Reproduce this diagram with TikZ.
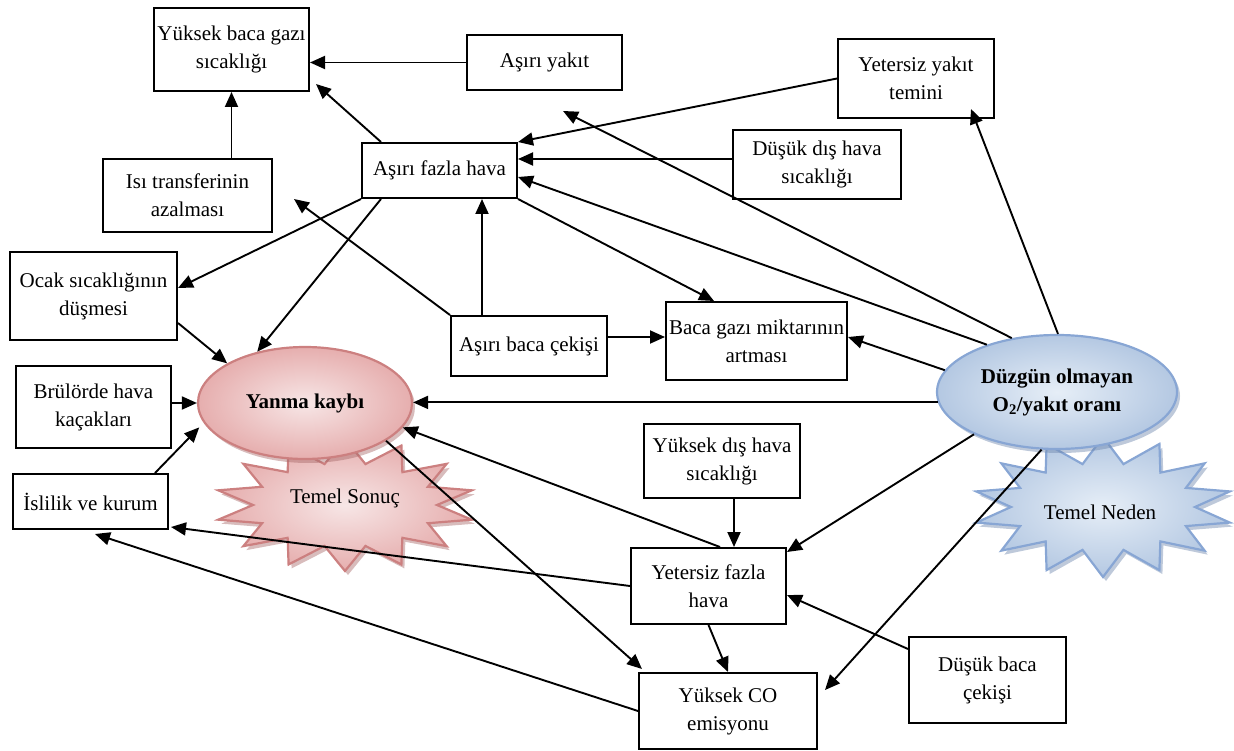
\documentclass[tikz,border=0pt]{standalone}
\usepackage{fontspec}
\setmainfont{Liberation Serif}
\usetikzlibrary{arrows.meta,shadows,calc,shapes.geometric}
\definecolor{pinkin}{HTML}{F7E6E6}
\definecolor{pinkout}{HTML}{E6AEAE}
\definecolor{pinkline}{HTML}{CC8080}
\definecolor{pinkshadow}{HTML}{A86A6A}
\definecolor{bluein}{HTML}{E6EEF7}
\definecolor{blueout}{HTML}{B4C8E2}
\definecolor{blueline}{HTML}{88A6D4}
\definecolor{blueshadow}{HTML}{6F88AE}
\begin{document}
\begin{tikzpicture}[x=1pt,y=-1pt,
  txt/.style={font=\fontsize{21}{28}\selectfont, align=center},
  box/.style={txt, draw, line width=2pt, fill=white, inner sep=1pt},
  arr/.style={line width=1.9pt, -{Triangle[length=15pt,width=13pt]}},
  pinkshape/.style={draw=pinkline, line width=2.2pt, inner color=pinkin, outer color=pinkout,
    drop shadow={shadow xshift=3pt, shadow yshift=-4pt, opacity=0.45, fill=pinkshadow}},
  blueshape/.style={draw=blueline, line width=2.2pt, inner color=bluein, outer color=blueout,
    drop shadow={shadow xshift=3pt, shadow yshift=-4pt, opacity=0.45, fill=blueshadow}}]
\useasboundingbox (0,0) rectangle (1234,751);

% starbursts
\path[pinkshape] plot[samples at={0,...,27}, variable=\k]
  ({345+ifthenelse(mod(\k,2)==0,130,92)*cos(\k*360/28+12.86)},
   {505+ifthenelse(mod(\k,2)==0,66,42)*sin(\k*360/28+12.86)}) -- cycle;
\path[blueshape] plot[samples at={0,...,27}, variable=\k]
  ({1103+ifthenelse(mod(\k,2)==0,130,92)*cos(\k*360/28+12.86)},
   {507+ifthenelse(mod(\k,2)==0,70,44)*sin(\k*360/28+12.86)}) -- cycle;
\node[txt] (ts) at (345,498) {Temel Sonuç};
\node[txt] (tn) at (1100,512) {Temel Neden};

% ellipses
\node[pinkshape, ellipse, minimum width=214pt, minimum height=112pt, txt, inner sep=0pt]
  (yk) at (305,403) {\bfseries Yanma kaybı};
\node[blueshape, ellipse, minimum width=240pt, minimum height=114pt, txt, inner sep=0pt]
  (dz) at (1057,392) {\bfseries Düzgün olmayan\\\bfseries O\textsubscript{2}/yakıt oranı};

% boxes
\node[box, minimum width=155pt, minimum height=83pt] (ybg) at (231.5,49.5) {Yüksek baca gazı\\sıcaklığı};
\node[box, minimum width=155pt, minimum height=55pt] (ayakit) at (544.5,62.5) {Aşırı yakıt};
\node[box, minimum width=156pt, minimum height=79pt] (yyt) at (916,78.5) {Yetersiz yakıt\\temini};
\node[box, minimum width=168pt, minimum height=69pt] (ddh) at (817,164.5) {Düşük dış hava\\sıcaklığı};
\node[box, minimum width=155pt, minimum height=55pt] (afh) at (439.5,170.5) {Aşırı fazla hava};
\node[box, minimum width=169pt, minimum height=73pt] (isi) at (187.5,195.5) {Isı transferinin\\azalması};
\node[box, minimum width=167pt, minimum height=88pt] (ocak) at (93.5,296) {Ocak sıcaklığının\\düşmesi};
\node[box, minimum width=155pt, minimum height=82pt] (brul) at (93.5,407) {Brülörde hava\\kaçakları};
\node[box, minimum width=155pt, minimum height=55pt] (isl) at (90.5,501.5) {İslilik ve kurum};
\node[box, minimum width=156pt, minimum height=60pt] (abc) at (529,346) {Aşırı baca çekişi};
\node[box, minimum width=181pt, minimum height=78pt] (bgm) at (756.5,341) {Baca gazı miktarının\\artması};
\node[box, minimum width=156pt, minimum height=74pt] (ydh) at (722,461) {Yüksek dış hava\\sıcaklığı};
\node[box, minimum width=155pt, minimum height=76pt] (yfh) at (708.5,586) {Yetersiz fazla\\hava};
\node[box, minimum width=178pt, minimum height=76pt] (yco) at (728,711) {Yüksek CO\\emisyonu};
\node[box, minimum width=157pt, minimum height=86pt] (dbc) at (987.5,680) {Düşük baca\\çekişi};

% connectors
\draw[arr] (ayakit.west) -- (ayakit.west -| ybg.east);
\draw[arr] ([xshift=20pt]afh.north west) -- ([xshift=6pt,yshift=8pt]ybg.south east);
\draw[arr] (isi.north -| ybg.south) -- (ybg.south);
\draw[arr] (yyt.west) -- (afh.north east);
\draw[arr] ([yshift=5.5pt]ddh.west) -- ([yshift=5.5pt]ddh.west -| afh.east);
\draw[arr] (dz.146) -- ([yshift=-6.5pt]afh.east);
\draw[arr] (dz.89) -- ([xshift=-24pt,yshift=10pt]yyt.south east);
\draw[arr] (dz.130) -- ([xshift=18.5pt,yshift=-20pt]ayakit.south);
\draw[arr] (dz.169) -- ([yshift=4pt]bgm.east);
\draw[arr] (dz.185) -- (dz.185 -| yk.east);
\draw[arr] (dz.207) -- ([yshift=-5pt]yfh.north east);
\draw[arr] (dz.255) -- ([xshift=7pt,yshift=21pt]yco.east);
\draw[arr] (afh.south west) -- ([yshift=8pt]ocak.east);
\draw[arr] ([xshift=20pt]afh.south west) -- (yk.133);
\draw[arr] (afh.south east) -- ([xshift=-42.5pt]bgm.north);
\draw[arr] ([xshift=-47pt]abc.north) -- ([xshift=-47pt]abc.north |- afh.south);
\draw[arr] (abc.north west) -- ([xshift=21pt,yshift=34pt]isi.south east);
\draw[arr] ([yshift=9pt]abc.east) -- ([yshift=9pt]abc.east -| bgm.west);
\draw[arr] ([yshift=-27pt]ocak.east) -- (yk.153);
\draw[arr] (brul.east |- yk.west) -- (yk.west);
\draw[arr] ([xshift=64.5pt]isl.north) -- ([xshift=-8pt]yk.194);
\draw[arr] ([xshift=11.5pt]yfh.north) -- (yk.346);
\draw[arr] (yfh.west) -- ([xshift=2pt,yshift=3pt]isl.south east);
\draw[arr] (yfh.south) -- (yco.north);
\draw[arr] (yco.west) -- ([xshift=4.5pt,yshift=-4pt]isl.south);
\draw[arr] (yk.335) -- ([xshift=4pt,yshift=3pt]yco.north west);
\draw[arr] ([xshift=12pt]ydh.south) -- ([xshift=12pt]ydh.south |- yfh.north);
\draw[arr] ([yshift=31pt]dbc.west) -- ([yshift=-9pt]yfh.east);
\end{tikzpicture}
\end{document}
